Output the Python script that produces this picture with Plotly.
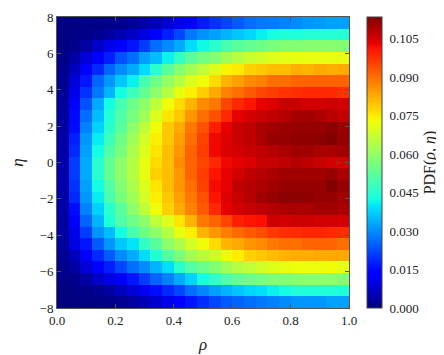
import numpy as np
import plotly.graph_objects as go

# cell centres
rho = [0.02, 0.06, 0.10, 0.14, 0.18, 0.22, 0.26, 0.30, 0.34, 0.38, 0.42, 0.46, 0.50,
       0.54, 0.58, 0.62, 0.66, 0.70, 0.74, 0.78, 0.82, 0.86, 0.90, 0.94, 0.98]
eta = [7.68, 7.04, 6.40, 5.76, 5.12, 4.48, 3.84, 3.20, 2.56, 1.92, 1.28, 0.64, 0.00,
       -0.64, -1.28, -1.92, -2.56, -3.20, -3.84, -4.48, -5.12, -5.76, -6.40, -7.04, -7.68]

# PDF(rho, eta), one row per eta (top to bottom)
pdf = [
    [0.0000, 0.0000, 0.0005, 0.0005, 0.0009, 0.0013, 0.0021, 0.0034, 0.0052, 0.0086, 0.0112, 0.0130, 0.0170, 0.0198, 0.0220, 0.0242, 0.0264, 0.0275, 0.0278, 0.0286, 0.0298, 0.0309, 0.0314, 0.0320, 0.0320],
    [0.0005, 0.0005, 0.0009, 0.0017, 0.0030, 0.0047, 0.0069, 0.0095, 0.0130, 0.0175, 0.0220, 0.0275, 0.0303, 0.0320, 0.0342, 0.0364, 0.0381, 0.0410, 0.0430, 0.0439, 0.0439, 0.0446, 0.0446, 0.0446, 0.0446],
    [0.0005, 0.0013, 0.0034, 0.0069, 0.0103, 0.0130, 0.0164, 0.0209, 0.0264, 0.0298, 0.0331, 0.0387, 0.0420, 0.0453, 0.0494, 0.0521, 0.0535, 0.0549, 0.0563, 0.0577, 0.0577, 0.0583, 0.0583, 0.0583, 0.0577],
    [0.0009, 0.0034, 0.0086, 0.0130, 0.0175, 0.0231, 0.0264, 0.0320, 0.0353, 0.0411, 0.0466, 0.0521, 0.0556, 0.0577, 0.0618, 0.0646, 0.0673, 0.0687, 0.0700, 0.0708, 0.0715, 0.0715, 0.0715, 0.0715, 0.0715],
    [0.0013, 0.0060, 0.0130, 0.0186, 0.0253, 0.0298, 0.0331, 0.0387, 0.0453, 0.0521, 0.0577, 0.0618, 0.0659, 0.0700, 0.0740, 0.0750, 0.0781, 0.0792, 0.0805, 0.0805, 0.0823, 0.0816, 0.0829, 0.0823, 0.0829],
    [0.0017, 0.0086, 0.0164, 0.0253, 0.0309, 0.0364, 0.0411, 0.0494, 0.0549, 0.0604, 0.0646, 0.0700, 0.0729, 0.0768, 0.0816, 0.0841, 0.0865, 0.0876, 0.0900, 0.0900, 0.0913, 0.0913, 0.0913, 0.0913, 0.0913],
    [0.0021, 0.0103, 0.0198, 0.0275, 0.0342, 0.0424, 0.0480, 0.0535, 0.0590, 0.0646, 0.0715, 0.0745, 0.0786, 0.0829, 0.0876, 0.0900, 0.0925, 0.0949, 0.0960, 0.0973, 0.0978, 0.0985, 0.0985, 0.0985, 0.0973],
    [0.0026, 0.0130, 0.0231, 0.0331, 0.0424, 0.0494, 0.0549, 0.0590, 0.0659, 0.0729, 0.0768, 0.0816, 0.0865, 0.0889, 0.0949, 0.0985, 0.1009, 0.1035, 0.1044, 0.1065, 0.1065, 0.1054, 0.1054, 0.1059, 0.1054],
    [0.0030, 0.0150, 0.0264, 0.0353, 0.0439, 0.0507, 0.0563, 0.0618, 0.0700, 0.0756, 0.0792, 0.0852, 0.0900, 0.0936, 0.0985, 0.1035, 0.1054, 0.1065, 0.1074, 0.1084, 0.1099, 0.1103, 0.1094, 0.1079, 0.1070],
    [0.0034, 0.0153, 0.0286, 0.0376, 0.0453, 0.0521, 0.0590, 0.0659, 0.0729, 0.0792, 0.0829, 0.0889, 0.0936, 0.0997, 0.1035, 0.1065, 0.1074, 0.1094, 0.1103, 0.1108, 0.1113, 0.1113, 0.1113, 0.1124, 0.1108],
    [0.0038, 0.0175, 0.0309, 0.0405, 0.0480, 0.0549, 0.0618, 0.0687, 0.0745, 0.0792, 0.0841, 0.0900, 0.0955, 0.1025, 0.1044, 0.1065, 0.1074, 0.1094, 0.1113, 0.1113, 0.1118, 0.1118, 0.1124, 0.1133, 0.1113],
    [0.0038, 0.0186, 0.0320, 0.0424, 0.0507, 0.0563, 0.0632, 0.0700, 0.0756, 0.0805, 0.0852, 0.0913, 0.0960, 0.1025, 0.1044, 0.1054, 0.1065, 0.1074, 0.1084, 0.1094, 0.1103, 0.1103, 0.1094, 0.1094, 0.1103],
    [0.0041, 0.0209, 0.0331, 0.0453, 0.0535, 0.0590, 0.0646, 0.0715, 0.0768, 0.0805, 0.0865, 0.0913, 0.0949, 0.0985, 0.1025, 0.1035, 0.1044, 0.1065, 0.1065, 0.1074, 0.1084, 0.1074, 0.1065, 0.1054, 0.1054],
    [0.0041, 0.0209, 0.0331, 0.0453, 0.0535, 0.0590, 0.0646, 0.0715, 0.0781, 0.0805, 0.0852, 0.0913, 0.0960, 0.1009, 0.1035, 0.1054, 0.1074, 0.1084, 0.1094, 0.1103, 0.1103, 0.1103, 0.1103, 0.1113, 0.1094],
    [0.0041, 0.0198, 0.0320, 0.0424, 0.0507, 0.0577, 0.0632, 0.0700, 0.0756, 0.0805, 0.0852, 0.0900, 0.0955, 0.1020, 0.1035, 0.1074, 0.1084, 0.1094, 0.1103, 0.1113, 0.1113, 0.1113, 0.1113, 0.1133, 0.1113],
    [0.0041, 0.0186, 0.0309, 0.0405, 0.0494, 0.0563, 0.0618, 0.0687, 0.0745, 0.0792, 0.0841, 0.0889, 0.0936, 0.1009, 0.1044, 0.1065, 0.1084, 0.1103, 0.1113, 0.1124, 0.1124, 0.1118, 0.1113, 0.1113, 0.1103],
    [0.0038, 0.0153, 0.0286, 0.0376, 0.0453, 0.0521, 0.0590, 0.0659, 0.0729, 0.0781, 0.0829, 0.0876, 0.0925, 0.0985, 0.1035, 0.1054, 0.1065, 0.1074, 0.1084, 0.1094, 0.1094, 0.1094, 0.1103, 0.1103, 0.1094],
    [0.0030, 0.0130, 0.0253, 0.0342, 0.0439, 0.0507, 0.0549, 0.0590, 0.0659, 0.0700, 0.0756, 0.0816, 0.0889, 0.0913, 0.0949, 0.0997, 0.1009, 0.1015, 0.1059, 0.1054, 0.1059, 0.1059, 0.1054, 0.1054, 0.1054],
    [0.0034, 0.0103, 0.0209, 0.0309, 0.0353, 0.0424, 0.0494, 0.0549, 0.0590, 0.0646, 0.0715, 0.0745, 0.0816, 0.0852, 0.0883, 0.0906, 0.0925, 0.0940, 0.0965, 0.0978, 0.0983, 0.0988, 0.0988, 0.0985, 0.0983],
    [0.0026, 0.0095, 0.0164, 0.0242, 0.0309, 0.0364, 0.0398, 0.0466, 0.0521, 0.0590, 0.0632, 0.0687, 0.0729, 0.0768, 0.0816, 0.0829, 0.0852, 0.0865, 0.0889, 0.0900, 0.0900, 0.0913, 0.0913, 0.0913, 0.0900],
    [0.0017, 0.0060, 0.0120, 0.0186, 0.0242, 0.0298, 0.0331, 0.0387, 0.0439, 0.0507, 0.0563, 0.0618, 0.0646, 0.0673, 0.0715, 0.0745, 0.0781, 0.0792, 0.0805, 0.0816, 0.0823, 0.0823, 0.0829, 0.0829, 0.0829],
    [0.0013, 0.0034, 0.0086, 0.0130, 0.0175, 0.0220, 0.0264, 0.0298, 0.0342, 0.0387, 0.0453, 0.0507, 0.0542, 0.0577, 0.0618, 0.0646, 0.0659, 0.0687, 0.0700, 0.0715, 0.0722, 0.0722, 0.0722, 0.0729, 0.0715],
    [0.0009, 0.0013, 0.0034, 0.0069, 0.0095, 0.0120, 0.0164, 0.0209, 0.0253, 0.0286, 0.0331, 0.0376, 0.0425, 0.0466, 0.0507, 0.0535, 0.0549, 0.0563, 0.0577, 0.0577, 0.0583, 0.0590, 0.0590, 0.0590, 0.0577],
    [0.0000, 0.0005, 0.0009, 0.0017, 0.0034, 0.0060, 0.0086, 0.0112, 0.0153, 0.0186, 0.0220, 0.0264, 0.0292, 0.0320, 0.0342, 0.0364, 0.0381, 0.0392, 0.0411, 0.0424, 0.0439, 0.0439, 0.0439, 0.0439, 0.0439],
    [0.0000, 0.0000, 0.0005, 0.0005, 0.0009, 0.0017, 0.0034, 0.0052, 0.0077, 0.0103, 0.0130, 0.0164, 0.0192, 0.0220, 0.0242, 0.0253, 0.0264, 0.0275, 0.0286, 0.0298, 0.0309, 0.0309, 0.0309, 0.0320, 0.0320],
]

cbar_ticks = [0.000, 0.015, 0.030, 0.045, 0.060, 0.075, 0.090, 0.105]

# matplotlib-style jet
stops = [0, 0.11, 0.125, 0.34, 0.35, 0.375, 0.64, 0.65, 0.66, 0.89, 0.91, 1]
def jet(t):
    r = np.interp(t, [0, 0.35, 0.66, 0.89, 1], [0, 0, 1, 1, 0.5])
    g = np.interp(t, [0, 0.125, 0.375, 0.64, 0.91, 1], [0, 0, 1, 1, 0, 0])
    b = np.interp(t, [0, 0.11, 0.34, 0.65, 1], [0.5, 1, 1, 0, 0])
    return f'rgb({int(round(r*255))},{int(round(g*255))},{int(round(b*255))})'
jet_scale = [[s, jet(s)] for s in stops]

FONT = 'Liberation Serif, DejaVu Serif, serif'

fig = go.Figure()
fig.add_trace(
    go.Heatmap(
        x=rho,
        y=eta[::-1],
        z=pdf[::-1],
        colorscale=jet_scale,
        zmin=0,
        zmax=0.1135,
        colorbar=dict(
            x=1.0616, xanchor='left', xpad=0,
            y=0.5, yanchor='middle', ypad=0,
            len=1, lenmode='fraction',
            thickness=15,
            outlinewidth=1, outlinecolor='#444',
            tickvals=cbar_ticks,
            tickformat='.3f',
            ticks='outside', ticklen=5, tickcolor='rgba(0,0,0,0)',
            tickfont=dict(family=FONT, size=13, color='#222'),
            title=dict(text='PDF(<i>ρ</i>, <i>η</i>)', side='right',
                       font=dict(family=FONT, size=16, color='#222')),
        ),
    )
)

axis_style = dict(
    showline=True, mirror='ticks', linecolor='#555', linewidth=1,
    ticks='inside', ticklen=4, tickcolor='#555',
    showgrid=False, zeroline=False, automargin=False,
    tickfont=dict(family=FONT, size=13, color='#222'),
)

fig.update_xaxes(
    range=[0, 1], tickvals=[0, 0.2, 0.4, 0.6, 0.8, 1.0], tickformat='.1f',
    title=dict(text='<i>ρ</i>', font=dict(family=FONT, size=17, color='#222'), standoff=11),
    **axis_style,
)
fig.update_yaxes(
    range=[-8, 8], tickvals=[-8, -6, -4, -2, 0, 2, 4, 6, 8],
    title=dict(text='<i>η</i>', font=dict(family=FONT, size=17, color='#222'), standoff=11),
    **axis_style,
)

# page body adds an 8px offset, so the figure is sized to fit the window
fig.update_layout(
    width=436,
    height=347,
    margin=dict(l=49, r=95, t=9, b=47, autoexpand=False),
    paper_bgcolor='white',
    plot_bgcolor='white',
)

fig.write_html('out.html')
